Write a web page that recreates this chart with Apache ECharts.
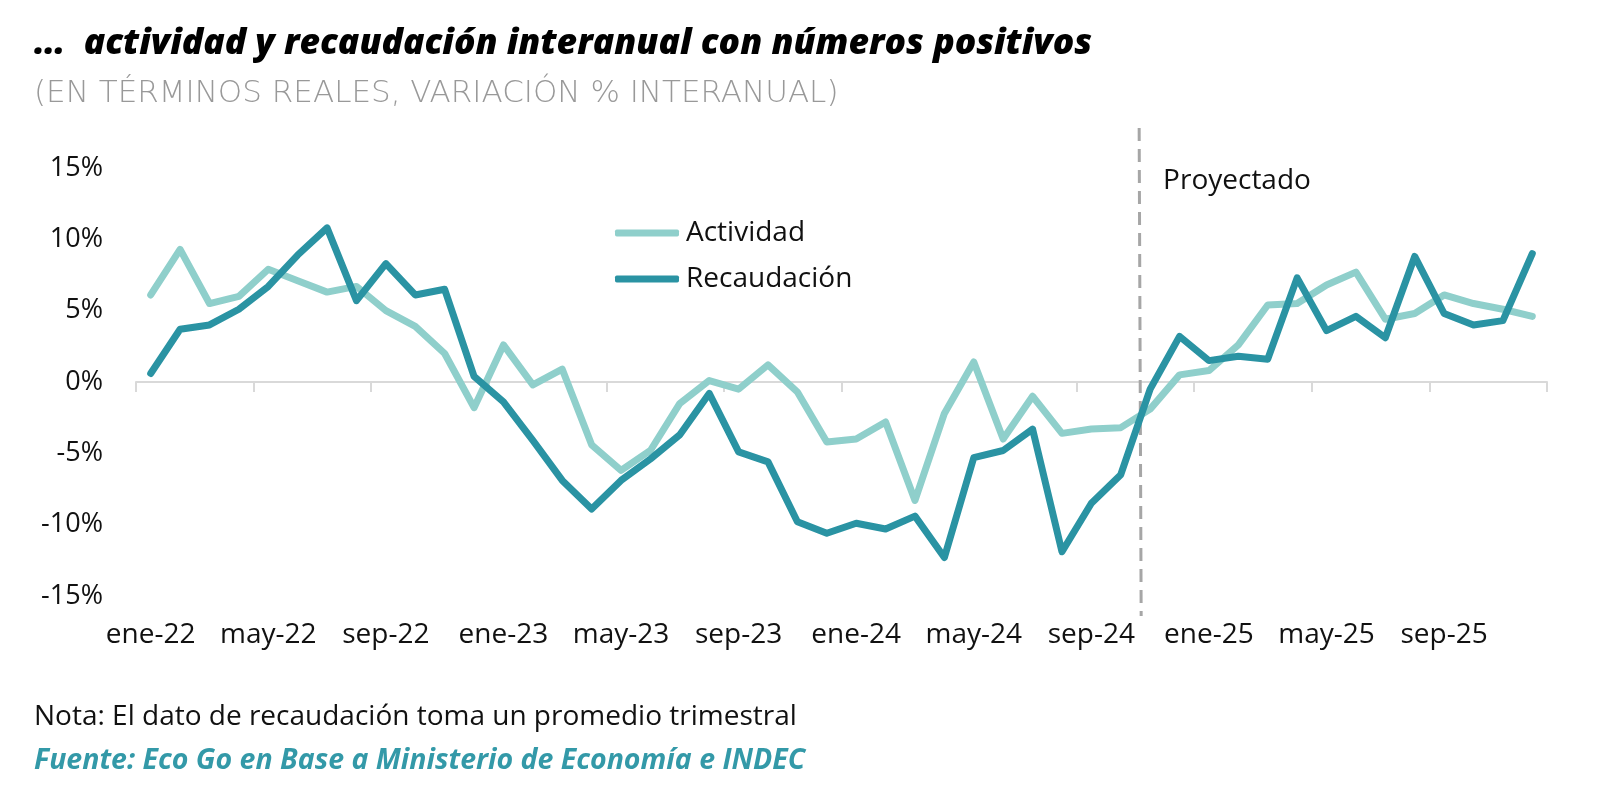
<!DOCTYPE html>
<html>
<head>
<meta charset="utf-8">
<script src="https://cdn.jsdelivr.net/npm/echarts@6/dist/echarts.min.js"></script>
<style>
  html, body { margin: 0; padding: 0; background: #ffffff; }
  #chart { width: 1600px; height: 802px; }
</style>
</head>
<body>
<div id="chart"></div>
<script>
// ---------- DATA ----------
const months = ['ene','feb','mar','abr','may','jun','jul','ago','sep','oct','nov','dic'];
const years = ['22','23','24','25'];
const categories = [];
years.forEach(y => months.forEach(m => categories.push(m + '-' + y)));

const actividad = [
  6.1, 9.3, 5.5, 6.0, 7.9, 7.1, 6.3, 6.7, 5.0, 3.9, 2.0, -1.8,
  2.6, -0.2, 0.9, -4.4, -6.2, -4.8, -1.5, 0.1, -0.5, 1.2, -0.7, -4.2,
  -4.0, -2.8, -8.3, -2.2, 1.4, -4.0, -1.0, -3.6, -3.3, -3.2, -1.9, 0.5,
  0.8, 2.6, 5.4, 5.5, 6.8, 7.7, 4.4, 4.8, 6.1, 5.5, 5.1, 4.6
];
const recaudacion = [
  0.6, 3.7, 4.0, 5.1, 6.7, 8.9, 10.8, 5.7, 8.3, 6.1, 6.5, 0.4,
  -1.4, -4.1, -6.9, -8.9, -6.9, -5.4, -3.7, -0.8, -4.9, -5.6, -9.8, -10.6,
  -9.9, -10.3, -9.4, -12.3, -5.3, -4.8, -3.3, -11.9, -8.5, -6.5, -0.5, 3.2,
  1.5, 1.8, 1.6, 7.3, 3.6, 4.6, 3.1, 8.8, 4.8, 4.0, 4.3, 9.0
];
const yTicks = [-15, -10, -5, 0, 5, 10, 15];
const seriesNames = ['Actividad', 'Recaudación'];

// annotation (projection start, in category-index units and % units)
const projectionIndex = 33.66;
const projectionLineTop = 17.8;
const projectionLineBottom = -16.4;
const projectionLabel = 'Proyectado';
const projectionLabelPos = [34.44, 14.1];

const titleText = '\u2026  actividad y recaudación interanual con números positivos';
const subtitleText = '(EN TÉRMINOS REALES, VARIACIÓN % INTERANUAL)';
const noteText = 'Nota: El dato de recaudación toma un promedio trimestral';
const sourceText = 'Fuente: Eco Go en Base a Ministerio de Economía e INDEC';

// ---------- STYLE ----------
const C_ACT = '#8fcfcb';
const C_REC = '#2a93a3';
const FONT = '"Open Sans", Roboto, sans-serif';
const LIGHTFONT = '"DejaVu Sans", sans-serif';

const chart = echarts.init(document.getElementById('chart'), null, { renderer: 'canvas' });

const option = {
  backgroundColor: '#ffffff',
  animation: false,
  grid: { left: 136, right: 53, top: 168, bottom: 206, containLabel: false },
  legend: {
    orient: 'vertical',
    left: 615,
    top: 219,
    padding: 0,
    icon: 'roundRect',
    itemWidth: 64,
    itemHeight: 7,
    itemGap: 18,
    data: seriesNames,
    textStyle: { fontFamily: FONT, fontSize: 28, color: '#111', lineHeight: 28, padding: [0, 0, 0, 2] }
  },
  xAxis: [
    {
      type: 'category',
      data: categories,
      boundaryGap: true,
      axisLine: { show: true, onZero: true, lineStyle: { color: '#d9d9d9', width: 2 } },
      axisTick: { show: true, interval: 3, length: 10, lineStyle: { color: '#d9d9d9', width: 2 } },
      axisLabel: { show: false },
      splitLine: { show: false }
    },
    {
      type: 'category',
      data: categories,
      position: 'bottom',
      boundaryGap: true,
      axisLine: { show: false, onZero: false },
      axisTick: { show: false },
      axisLabel: {
        show: true, interval: 3, margin: 25,
        fontFamily: FONT, fontSize: 28, color: '#111'
      },
      splitLine: { show: false }
    }
  ],
  yAxis: {
    type: 'value',
    min: yTicks[0],
    max: yTicks[yTicks.length - 1],
    interval: 5,
    axisLine: { show: false },
    axisTick: { show: false },
    splitLine: { show: false },
    axisLabel: {
      margin: 33,
      fontFamily: FONT, fontSize: 27, color: '#111',
      formatter: v => v + '%'
    }
  },
  series: [
    {
      name: seriesNames[0],
      type: 'line',
      data: actividad,
      symbol: 'none',
      lineStyle: { color: C_ACT, width: 7, join: 'round', cap: 'round' },
      itemStyle: { color: C_ACT },
      z: 2
    },
    {
      name: seriesNames[1],
      type: 'line',
      data: recaudacion,
      symbol: 'none',
      lineStyle: { color: C_REC, width: 7, join: 'round', cap: 'round' },
      itemStyle: { color: C_REC },
      z: 3
    }
  ]
};
chart.setOption(option);

// annotations positioned through the axes
const i0 = Math.floor(projectionIndex);
const xa = chart.convertToPixel({ xAxisIndex: 0 }, i0);
const xb = chart.convertToPixel({ xAxisIndex: 0 }, i0 + 1);
const px = xa + (xb - xa) * (projectionIndex - i0);
const pyTop = chart.convertToPixel({ yAxisIndex: 0 }, projectionLineTop);
const pyBot = chart.convertToPixel({ yAxisIndex: 0 }, projectionLineBottom);
const j0 = Math.floor(projectionLabelPos[0]);
const la = chart.convertToPixel({ xAxisIndex: 0 }, j0);
const lb = chart.convertToPixel({ xAxisIndex: 0 }, j0 + 1);
const lx = la + (lb - la) * (projectionLabelPos[0] - j0);
const ly = chart.convertToPixel({ yAxisIndex: 0 }, projectionLabelPos[1]);

chart.setOption({
  graphic: [
    {
      type: 'line', z: 1,
      shape: { x1: px - 1, y1: pyTop, x2: px + 1, y2: pyBot },
      style: { stroke: '#a6a6a6', lineWidth: 3, lineDash: [13, 8] }
    },
    {
      type: 'text', z: 10,
      style: { x: lx, y: ly, text: projectionLabel, font: '28px ' + FONT, fill: '#111', textVerticalAlign: 'middle' }
    },
    {
      type: 'text', z: 10,
      style: { x: 34, y: 44, text: titleText, font: 'italic 800 35.5px ' + FONT, fill: '#000', textVerticalAlign: 'middle' }
    },
    {
      type: 'text', z: 10,
      style: { x: 34, y: 94, text: subtitleText, font: '200 31px ' + LIGHTFONT, fill: '#999999', textVerticalAlign: 'middle' }
    },
    {
      type: 'text', z: 10,
      style: { x: 34, y: 717, text: noteText, font: '28px ' + FONT, fill: '#111', textVerticalAlign: 'middle' }
    },
    {
      type: 'text', z: 10,
      style: { x: 34, y: 761, text: sourceText, font: 'italic bold 28.5px ' + FONT, fill: '#3399a8', textVerticalAlign: 'middle' }
    }
  ]
});
</script>
</body>
</html>
